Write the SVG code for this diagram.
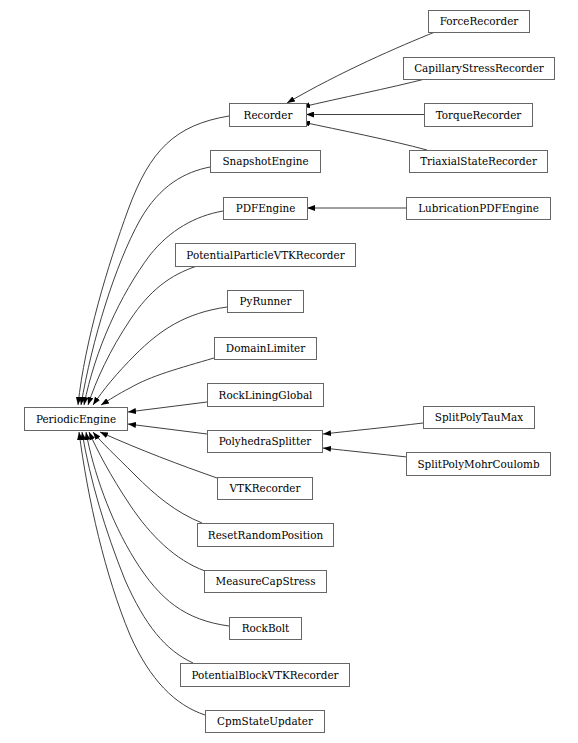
<svg xmlns="http://www.w3.org/2000/svg" width="578" height="743" viewBox="0 0 578 743">
<style>
.node rect{fill:#ffffff;stroke:#666666;stroke-width:1}
.node text{font-family:"DejaVu Serif","Liberation Serif",serif;font-size:10.4px;fill:#000000;text-anchor:middle}
.edges path{fill:none;stroke:#404040;stroke-width:1;marker-end:url(#ah)}
</style>
<defs>
<marker id="ah" markerUnits="userSpaceOnUse" markerWidth="8" markerHeight="6" viewBox="0 0 8 6" refX="8" refY="3" orient="auto">
<path d="M0,0 L8,3 L0,6 z" style="fill:#000000;stroke:none"/>
</marker>
</defs>
<rect width="578" height="743" fill="#ffffff"/>
<g class="edges">
<path d="M435,32 C400,46 340,72 287,103"/>
<path d="M425,79 C390,88 340,98 302,107"/>
<path d="M424,114.5 L306,114.5"/>
<path d="M427,150 C390,140 340,130 302,122"/>
<path d="M406,208 L307,208"/>
<path d="M423,423 C390,427 350,431 323,434"/>
<path d="M407,457 C380,454 350,451 323,448"/>
<path d="M229,116 C175,125 150,150 128,210 C108,265 85,340 78,405"/>
<path d="M210,167 C185,172 160,185 140,220 C115,265 92,340 81,405"/>
<path d="M223,211 C195,216 170,230 150,255 C120,295 95,350 84,405"/>
<path d="M197,266 C170,275 150,290 130,320 C110,350 96,380 88,405"/>
<path d="M227,307 C185,313 160,330 135,355 C117,373 103,390 93,405"/>
<path d="M214,358 C180,368 150,376 130,388 C118,394 109,400 101,405"/>
<path d="M207,402 L128,412"/>
<path d="M207,434 L128,424"/>
<path d="M217,478 C180,465 140,450 100,432"/>
<path d="M202,523 C175,512 155,495 135,475 C115,455 101,442 93,432"/>
<path d="M205,571 C175,560 150,535 130,505 C110,475 97,450 89,432"/>
<path d="M229,626 C185,620 160,600 135,560 C110,520 93,470 86,432"/>
<path d="M193,663 C165,650 145,625 125,580 C105,530 90,480 82,432"/>
<path d="M205,715 C175,705 150,680 130,635 C105,575 88,500 79,432"/>
</g>
<g id="PeriodicEngine" class="node"><rect x="24.5" y="407.5" width="103" height="23"/><text x="76" y="422.5">PeriodicEngine</text></g>
<g id="Recorder" class="node"><rect x="229.5" y="103.5" width="77" height="23"/><text x="268" y="118.5">Recorder</text></g>
<g id="SnapshotEngine" class="node"><rect x="210.5" y="150.5" width="110" height="22"/><text x="265.5" y="165">SnapshotEngine</text></g>
<g id="PDFEngine" class="node"><rect x="223.5" y="197.5" width="84" height="22"/><text x="265.5" y="212">PDFEngine</text></g>
<g id="PotentialParticleVTKRecorder" class="node"><rect x="175.5" y="243.5" width="180" height="23"/><text x="265.5" y="258.5">PotentialParticleVTKRecorder</text></g>
<g id="PyRunner" class="node"><rect x="227.5" y="290.5" width="76" height="22"/><text x="265.5" y="305">PyRunner</text></g>
<g id="DomainLimiter" class="node"><rect x="214.5" y="337.5" width="102" height="22"/><text x="265.5" y="352">DomainLimiter</text></g>
<g id="RockLiningGlobal" class="node"><rect x="207.5" y="383.5" width="116" height="23"/><text x="265.5" y="398.5">RockLiningGlobal</text></g>
<g id="PolyhedraSplitter" class="node"><rect x="207.5" y="430.5" width="115" height="22"/><text x="265" y="445">PolyhedraSplitter</text></g>
<g id="VTKRecorder" class="node"><rect x="217.5" y="477.5" width="95" height="22"/><text x="265" y="492">VTKRecorder</text></g>
<g id="ResetRandomPosition" class="node"><rect x="197.5" y="523.5" width="136" height="23"/><text x="265.5" y="538.5">ResetRandomPosition</text></g>
<g id="MeasureCapStress" class="node"><rect x="204.5" y="570.5" width="122" height="22"/><text x="265.5" y="585">MeasureCapStress</text></g>
<g id="RockBolt" class="node"><rect x="229.5" y="617.5" width="72" height="22"/><text x="265.5" y="632">RockBolt</text></g>
<g id="PotentialBlockVTKRecorder" class="node"><rect x="180.5" y="663.5" width="169" height="23"/><text x="265" y="678.5">PotentialBlockVTKRecorder</text></g>
<g id="CpmStateUpdater" class="node"><rect x="205.5" y="710.5" width="119" height="22"/><text x="265" y="725">CpmStateUpdater</text></g>
<g id="ForceRecorder" class="node"><rect x="428.5" y="10.5" width="101" height="22"/><text x="479" y="25">ForceRecorder</text></g>
<g id="CapillaryStressRecorder" class="node"><rect x="403.5" y="57.5" width="151" height="22"/><text x="479" y="72">CapillaryStressRecorder</text></g>
<g id="TorqueRecorder" class="node"><rect x="424.5" y="103.5" width="108" height="23"/><text x="478.5" y="118.5">TorqueRecorder</text></g>
<g id="TriaxialStateRecorder" class="node"><rect x="409.5" y="150.5" width="138" height="22"/><text x="478.5" y="165">TriaxialStateRecorder</text></g>
<g id="LubricationPDFEngine" class="node"><rect x="406.5" y="197.5" width="144" height="22"/><text x="478.5" y="212">LubricationPDFEngine</text></g>
<g id="SplitPolyTauMax" class="node"><rect x="423.5" y="406.5" width="111" height="22"/><text x="479" y="421">SplitPolyTauMax</text></g>
<g id="SplitPolyMohrCoulomb" class="node"><rect x="406.5" y="452.5" width="144" height="23"/><text x="478.5" y="467.5">SplitPolyMohrCoulomb</text></g>
</svg>
